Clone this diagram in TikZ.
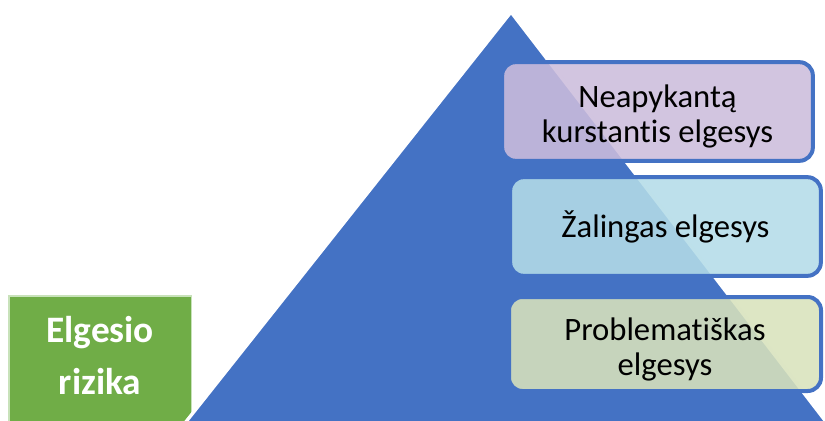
\documentclass[tikz,border=0pt]{standalone}
\usepackage{fontspec}
\setmainfont{Carlito}[Ligatures=CommonOff]
\definecolor{pyrblue}{RGB}{68,114,196}
\definecolor{riskgreen}{RGB}{112,173,71}
\definecolor{riskedge}{RGB}{200,226,186}
\definecolor{lvltop}{RGB}{204,189,220}
\definecolor{lvlmid}{RGB}{180,220,232}
\definecolor{lvllow}{RGB}{216,226,188}
\tikzset{
  lvlbox/.style={draw=pyrblue, line width=3pt, rounded corners=10pt,
    fill opacity=0.88, inner sep=0pt},
  lvltext/.style={align=center, inner sep=0pt,
    font=\fontsize{24.5}{26}\selectfont},
}
\begin{document}
\begin{tikzpicture}[x=0.75pt, y=-0.75pt]
  \useasboundingbox (0,0) rectangle (825,421);
  % risk label box
  \node[draw=riskedge, line width=1.2pt, fill=riskgreen, minimum width=137pt,
        minimum height=96pt, anchor=north west, inner sep=0pt] (risk) at (8,295) {};
  \node[align=center, inner sep=0pt, text=white,
        font=\fontsize{28}{39}\selectfont\bfseries]
    (riskText) at ([yshift=3pt]risk.center) {Elgesio\\rizika};
  % pyramid
  \filldraw[fill=pyrblue, draw=white, line width=2.5pt, line join=miter]
    (185,423) -- (511,12) -- (827,423) -- cycle;
  \coordinate (apex) at (511,12);
  % levels
  \node[lvlbox, fill=lvltop, minimum width=233pt, minimum height=74pt]
    (top) at (657.5,111.5) {};
  \node[lvltext] (topText) at ([yshift=-3.5pt]top.center)
    {Neapykantą\\kurstantis elgesys};
  \node[lvlbox, fill=lvlmid, minimum width=233pt, minimum height=74pt]
    (mid) at (665.5,226.5) {};
  \node[lvltext] (midText) at ([yshift=-0.5pt]mid.center) {Žalingas elgesys};
  \node[lvlbox, fill=lvllow, minimum width=234pt, minimum height=70.5pt]
    (low) at (665,344) {};
  \node[lvltext] (lowText) at ([yshift=-4pt]low.center)
    {Problematiškas\\elgesys};
\end{tikzpicture}
\end{document}
